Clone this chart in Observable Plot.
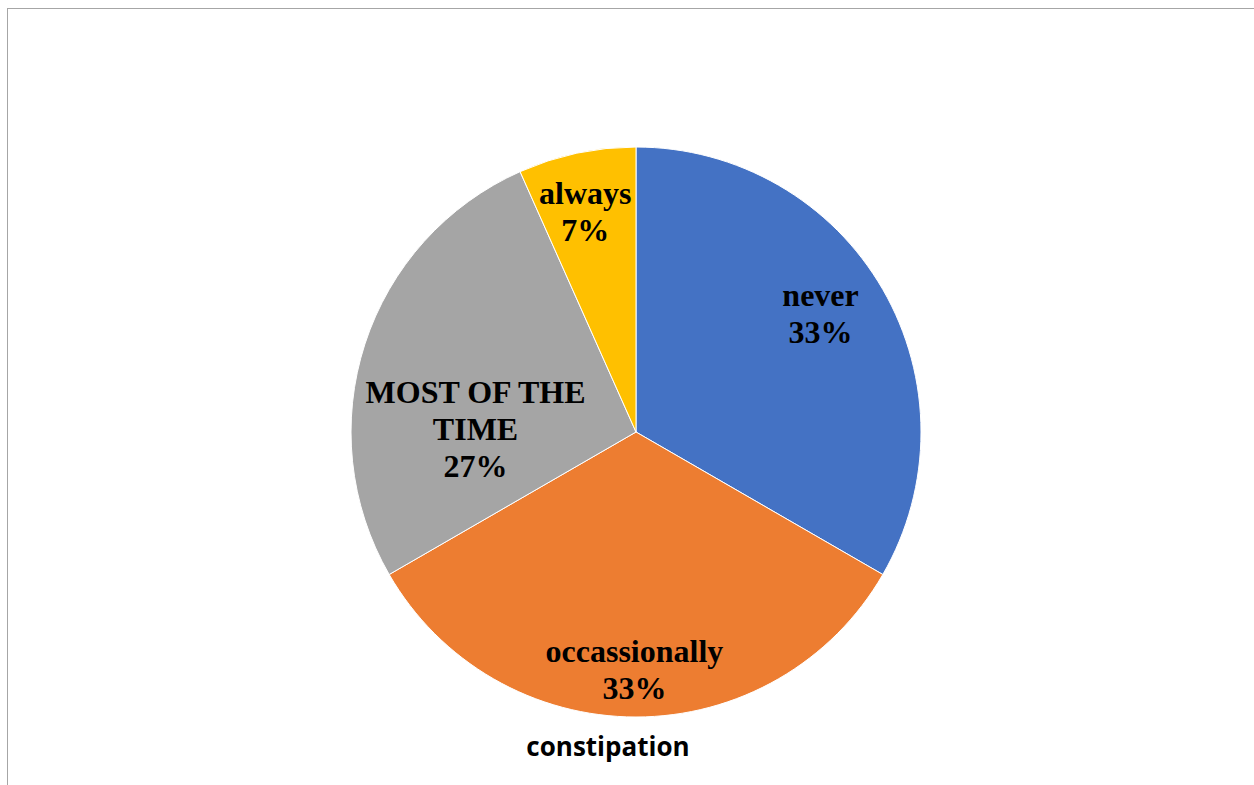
<!DOCTYPE html>
<html>
<head>
<meta charset="utf-8">
<script src="https://cdn.jsdelivr.net/npm/d3@7"></script>
<script src="https://cdn.jsdelivr.net/npm/@observablehq/plot@0.6"></script>
<style>
  html, body { margin: 0; padding: 0; background: #fff; overflow: hidden; }
  #wrap { position: relative; width: 1254px; height: 785px; }
  #frame { position: absolute; left: 7px; top: 8px; width: 1260px; height: 800px;
           border-top: 1.5px solid #a6a6a6; border-left: 1.5px solid #a6a6a6; box-sizing: border-box; }
  #chart { position: absolute; left: 0; top: 0; }
  #title { position: absolute; left: 408px; width: 400px; top: 746px; transform: translateY(-50%); text-align: center;
           font-family: "Open Sans", Lato, sans-serif; font-weight: 700; font-size: 24px; color: #000; line-height: 1; }
</style>
</head>
<body>
<div id="wrap">
  <div id="frame"></div>
  <div id="chart"></div>
  <div id="title">constipation</div>
</div>
<script>
// ---- data ----
const categories = ["never", "occassionally", "MOST OF THE TIME", "always"];
const counts = [10, 10, 8, 2];
const colors = ["#4472C4", "#ED7D31", "#A5A5A5", "#FFC000"];
const chartTitle = "constipation";

// ---- derived ----
const total = d3.sum(counts);
const pie = d3.pie().sort(null).value(d => d.value)(
  categories.map((c, i) => ({category: c, value: counts[i], color: colors[i]}))
);
const slices = pie.map(p => ({...p.data, startAngle: p.startAngle, endAngle: p.endAngle,
  pct: Math.round(p.data.value / total * 100) + "%"}));

// label placement (layout): angle in degrees clockwise from 12 o'clock, radius fraction
const labelPlace = {
  "never": [57, 0.77],
  "occassionally": [180.5, 0.83],
  "MOST OF THE TIME": [271.5, 0.565],
  "always": [347, 0.8]
};
const labelText = {"MOST OF THE TIME": "MOST OF THE\nTIME"};
const labels = slices.map(s => {
  const [a, r] = labelPlace[s.category];
  const rad = a * Math.PI / 180;
  return {x: r * Math.sin(rad), y: r * Math.cos(rad), text: (labelText[s.category] || s.category) + "\n" + s.pct};
});

function pieMark(index, scales) {
  const sx = scales.x, sy = scales.y;
  const cx = sx(0), cy = sy(0), R = sx(1) - sx(0);
  const g = d3.create("svg:g").attr("transform", `translate(${cx},${cy})`);
  const arc = d3.arc().innerRadius(0).outerRadius(R);
  g.selectAll("path").data(slices).join("path")
    .attr("d", d => arc(d))
    .attr("fill", d => d.color)
    .attr("stroke", "#fff")
    .attr("stroke-width", 1);
  return g.node();
}

const chart = Plot.plot({
  width: 1254,
  height: 785,
  margin: 0,
  x: {domain: [-1, 1], range: [351, 921], axis: null},
  y: {domain: [-1, 1], range: [717, 147], axis: null},
  marks: [
    pieMark,
    Plot.text(labels, {
      x: "x", y: "y", text: "text",
      fontFamily: "'Liberation Serif', 'Times New Roman', serif",
      fontWeight: "bold",
      fontSize: 32,
      lineHeight: 1.16,
      lineAnchor: "middle",
      textAnchor: "middle",
      fill: "#000"
    })
  ],
  style: {background: "transparent", overflow: "visible"}
});
document.getElementById("chart").appendChild(chart);

// title: fit to reference width
const titleEl = document.getElementById("title");
titleEl.textContent = chartTitle;
const ctx = document.createElement("canvas").getContext("2d");
ctx.font = "700 24px 'Open Sans'";
const w = ctx.measureText(chartTitle).width;
if (w > 0) titleEl.style.fontSize = (24 * 163 / w).toFixed(1) + "px";
</script>
</body>
</html>
